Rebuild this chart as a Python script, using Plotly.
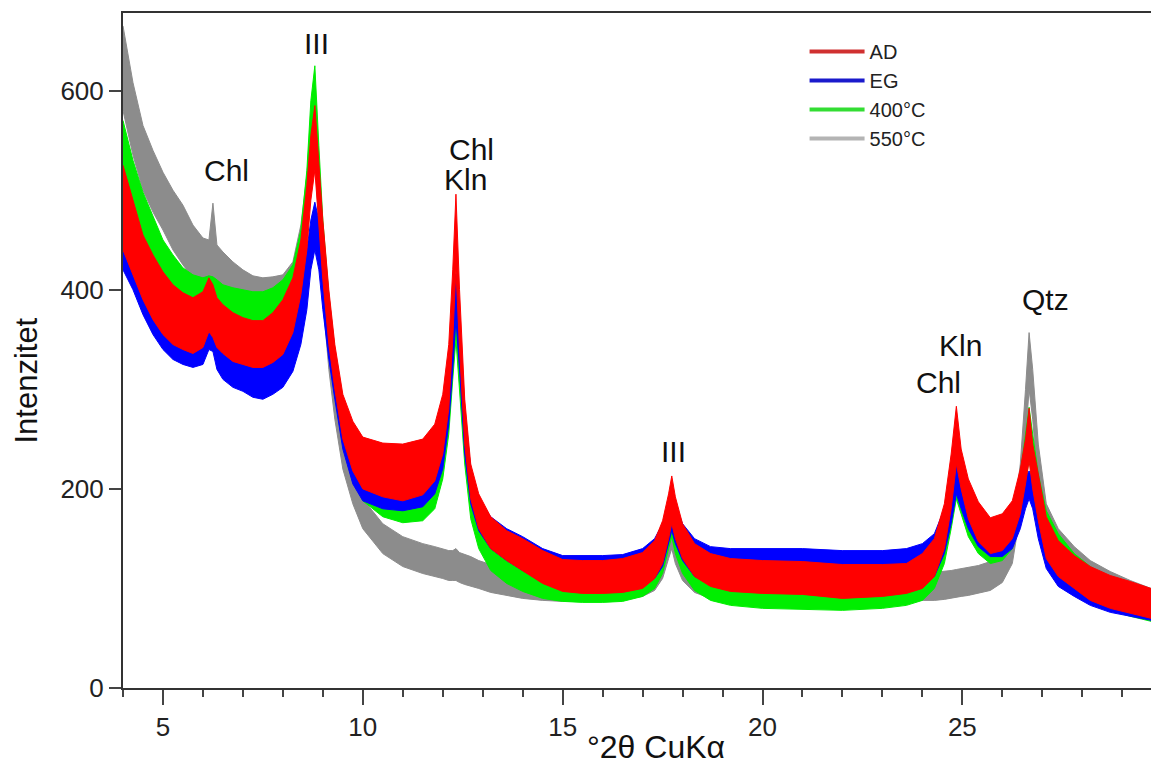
import plotly.graph_objects as go

# 2-theta sample positions (degrees, Cu K-alpha)
TWO_THETA = [4.0, 4.25, 4.5, 4.75, 5.0, 5.25, 5.5, 5.75, 6.0, 6.15, 6.25, 6.35, 6.5, 6.75,
             7.0, 7.25, 7.5, 7.75, 8.0, 8.25, 8.45, 8.6, 8.7, 8.8, 8.9, 9.0, 9.15, 9.3,
             9.5, 9.75, 10.0, 10.5, 11.0, 11.5, 11.8, 12.0, 12.15, 12.25, 12.33, 12.42,
             12.55, 12.7, 12.9, 13.2, 13.6, 14.0, 14.5, 15.0, 15.5, 16.0, 16.5, 17.0,
             17.3, 17.5, 17.65, 17.73, 17.82, 18.0, 18.3, 18.7, 19.2, 20.0, 21.0, 22.0,
             23.0, 23.6, 24.0, 24.3, 24.55, 24.72, 24.85, 24.97, 25.15, 25.4, 25.7, 26.0,
             26.25, 26.45, 26.58, 26.67, 26.76, 26.9, 27.1, 27.4, 27.8, 28.2, 28.7, 29.2,
             29.72]

# AD (air dried): lower / upper edge of the noisy trace
AD_LO = [440, 415, 390, 370, 355, 345, 340, 336, 342, 358, 352, 342, 336, 328,
         325, 322, 322, 327, 335, 357, 395, 440, 490, 520, 470, 410, 345, 300,
         250, 218, 200, 192, 188, 194, 208, 235, 280, 350, 420, 340,
         245, 190, 160, 140, 128, 118, 105, 97, 95, 95, 96, 100,
         110, 125, 150, 165, 150, 130, 112, 102, 97, 95, 94, 90,
         92, 95, 100, 112, 140, 180, 225, 200, 170, 147, 135, 138,
         150, 175, 205, 228, 200, 168, 130, 112, 100, 88, 80, 75,
         70]
AD_HI = [525, 490, 455, 435, 418, 405, 397, 392, 398, 412, 405, 392, 385, 377,
         372, 369, 369, 377, 390, 412, 450, 505, 555, 585, 530, 470, 400, 345,
         295, 268, 252, 246, 245, 250, 265, 295, 345, 420, 496, 400,
         290, 225, 195, 172, 158, 150, 138, 129, 128, 128, 130, 136,
         148, 168, 195, 213, 192, 165, 145, 135, 130, 128, 127, 124,
         124, 125, 135, 150, 185, 235, 283, 240, 210, 187, 171, 175,
         188, 220, 250, 281, 245, 215, 172, 148, 133, 122, 113, 107,
         100]

# EG (ethylene glycol)
EG_LO = [420, 400, 375, 355, 340, 330, 325, 322, 325, 340, 338, 320, 310, 302,
         298, 292, 290, 295, 302, 318, 345, 380, 420, 440, 420, 380, 330, 290,
         240, 205, 188, 180, 178, 182, 195, 220, 265, 320, 370, 320,
         235, 185, 158, 140, 128, 118, 106, 100, 98, 98, 98, 102,
         110, 122, 145, 158, 145, 128, 112, 105, 100, 98, 97, 95,
         96, 98, 102, 112, 135, 165, 195, 180, 160, 142, 132, 132,
         140, 160, 180, 190, 180, 150, 120, 102, 92, 83, 76, 72,
         68]
EG_HI = [505, 470, 440, 420, 402, 390, 382, 378, 383, 395, 390, 375, 365, 355,
         352, 350, 350, 357, 365, 380, 405, 440, 470, 488, 470, 430, 380, 335,
         285, 250, 235, 228, 226, 232, 248, 278, 325, 380, 416, 375,
         280, 220, 190, 172, 160, 152, 140, 133, 133, 133, 134, 140,
         150, 165, 188, 200, 185, 165, 150, 142, 140, 140, 140, 138,
         138, 140, 145, 155, 180, 210, 232, 222, 200, 180, 168, 170,
         178, 198, 212, 218, 210, 190, 160, 138, 125, 117, 108, 104,
         98]

# 400 °C
T400_LO = [495, 460, 430, 410, 395, 385, 378, 375, 374, 376, 376, 372, 368, 365,
           363, 362, 362, 365, 372, 385, 415, 460, 520, 560, 480, 410, 345, 295,
           245, 208, 188, 172, 166, 168, 180, 210, 255, 310, 350, 300,
           225, 170, 140, 118, 105, 97, 90, 87, 86, 86, 87, 92,
           100, 115, 140, 152, 135, 115, 98, 88, 83, 80, 79, 78,
           80, 83, 88, 100, 125, 160, 190, 175, 152, 135, 125, 128,
           140, 170, 205, 230, 210, 172, 138, 118, 100, 88, 78, 72,
           67]
T400_HI = [570, 530, 498, 473, 450, 435, 422, 415, 412, 414, 413, 410, 405, 402,
           400, 398, 398, 402, 410, 425, 460, 520, 590, 625, 545, 470, 395, 340,
           290, 255, 238, 220, 215, 220, 235, 268, 315, 370, 398, 355,
           265, 205, 175, 150, 135, 128, 120, 117, 116, 116, 117, 125,
           138, 158, 182, 195, 175, 150, 130, 118, 112, 110, 108, 108,
           110, 113, 120, 135, 165, 205, 232, 215, 190, 172, 160, 165,
           180, 215, 255, 282, 255, 215, 178, 155, 135, 122, 110, 103,
           96]

# 550 °C
T550_LO = [580, 535, 500, 478, 460, 440, 425, 412, 402, 398, 400, 395, 390, 385,
           380, 376, 375, 376, 378, 390, 420, 460, 510, 540, 460, 390, 320, 270,
           220, 185, 160, 135, 122, 115, 112, 110, 108, 108, 108, 106,
           104, 102, 100, 96, 93, 90, 88, 87, 87, 88, 89, 92,
           98, 110, 130, 140, 125, 108, 96, 90, 88, 86, 85, 85,
           86, 87, 88, 88, 89, 90, 91, 92, 93, 95, 98, 106,
           125, 175, 250, 300, 270, 200, 155, 130, 112, 98, 88, 80,
           74]
T550_HI = [665, 608, 565, 540, 518, 500, 485, 465, 452, 450, 487, 445, 438, 428,
           420, 414, 412, 413, 415, 428, 465, 515, 570, 600, 525, 450, 375, 320,
           260, 222, 190, 165, 152, 145, 142, 140, 138, 138, 140, 136,
           134, 132, 128, 124, 120, 118, 116, 115, 115, 116, 117, 122,
           130, 148, 175, 195, 165, 140, 125, 118, 115, 113, 112, 112,
           113, 114, 115, 116, 117, 118, 119, 120, 121, 123, 127, 135,
           160, 225, 300, 357, 320, 245, 185, 160, 142, 128, 117, 108,
           100]

SERIES = [  # drawn back to front
    ("550°C", T550_LO, T550_HI, "#8c8c8c", "#b4b4b4"),
    ("400°C", T400_LO, T400_HI, "#00ee00", "#33dd33"),
    ("EG", EG_LO, EG_HI, "#0000ff", "#1a1acc"),
    ("AD", AD_LO, AD_HI, "#ff0000", "#d03030"),
]
LEGEND_ORDER = ["AD", "EG", "400°C", "550°C"]

PEAK_LABELS = [  # (text, 2theta, intensity)
    ("Chl", 6.58, 520),
    ("Ill", 8.85, 647),
    ("Chl", 12.73, 541),
    ("Kln", 12.58, 511),
    ("Ill", 17.77, 238),
    ("Kln", 24.95, 344),
    ("Chl", 24.41, 307),
    ("Qtz", 27.09, 390),
]

FONT = "Arial, Liberation Sans, sans-serif"
fig = go.Figure()

for name, lo, hi, col, _ in SERIES:
    fig.add_trace(go.Scatter(
        x=TWO_THETA + TWO_THETA[::-1],
        y=hi + lo[::-1],
        fill="toself", fillcolor=col, mode="lines",
        line=dict(color=col, width=1),
        showlegend=False, hoverinfo="skip"))

legcol = {s[0]: s[4] for s in SERIES}
for name in LEGEND_ORDER:
    fig.add_trace(go.Scatter(x=[None], y=[None], mode="lines", name=name,
                             line=dict(color=legcol[name], width=4)))

for txt, x, y in PEAK_LABELS:
    fig.add_annotation(x=x, y=y, text=txt.replace("Ill", "III"), showarrow=False,
                       font=dict(size=30, color="#111", family=FONT),
                       xanchor="center", yanchor="middle")

fig.add_annotation(xref="paper", yref="paper", x=-0.094, y=0.456, text="Intenzitet",
                   textangle=-90, showarrow=False, xanchor="center", yanchor="middle",
                   font=dict(size=31, color="#111", family=FONT))
fig.add_annotation(xref="paper", yref="paper", x=0.518, y=-0.087, text="°2θ CuKα",
                   showarrow=False, xanchor="center", yanchor="middle",
                   font=dict(size=32, color="#111", family=FONT))

fig.update_layout(
    width=1151, height=767,
    margin=dict(l=123, r=0, t=13, b=79),
    paper_bgcolor="white", plot_bgcolor="white",
    font=dict(family=FONT, color="#222"),
    legend=dict(x=0.663, y=0.972, xanchor="left", yanchor="top",
                bgcolor="rgba(0,0,0,0)", font=dict(size=20, color="#222", family=FONT),
                itemwidth=55, tracegroupgap=0),
    xaxis=dict(range=[4.0, 29.72], tick0=0, dtick=5, ticks="outside", ticklen=15,
               tickwidth=2, tickcolor="#444", showline=True, linewidth=2,
               linecolor="#333", mirror=True, showgrid=False, zeroline=False,
               tickfont=dict(size=26, color="#222"),
               minor=dict(dtick=1, ticks="outside", ticklen=7, tickwidth=1.5,
                          tickcolor="#444", showgrid=False)),
    yaxis=dict(range=[0, 678], tick0=0, dtick=200, ticks="outside", ticklen=12,
               tickwidth=2, tickcolor="#444", showline=True, linewidth=2,
               linecolor="#333", showgrid=False, zeroline=False,
               tickfont=dict(size=26, color="#222")),
)

fig.write_html("out.html", config={"displayModeBar": False},
               post_script="document.body.style.margin='0';document.body.style.overflow='hidden';")
